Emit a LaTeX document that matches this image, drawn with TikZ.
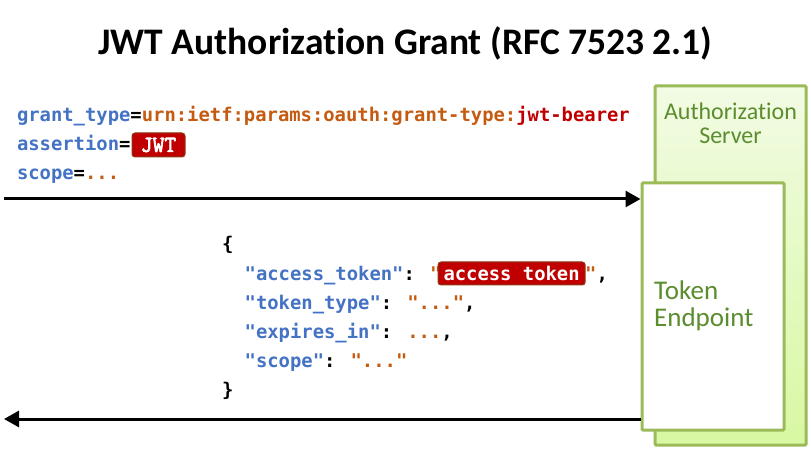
\documentclass[tikz,border=0pt]{standalone}
\usepackage{fontspec}
\usetikzlibrary{arrows.meta}
\setmainfont{Carlito}[Ligatures=NoCommon]
\newfontfamily\codefont{DejaVu Sans Mono}
\newfontfamily\jwtfont{Latin Modern Mono}[FakeBold=3]
\definecolor{keyblue}{HTML}{4472C4}
\definecolor{valorange}{HTML}{C55A11}
\definecolor{valred}{HTML}{C00000}
\definecolor{badgefill}{HTML}{C00000}
\definecolor{badgeedge}{HTML}{8A3A18}
\definecolor{boxgreen}{HTML}{9BBB59}
\definecolor{textgreen}{HTML}{5B8C2E}
\definecolor{astop}{HTML}{F2FBE4}
\definecolor{asbottom}{HTML}{D8F8A2}
\tikzset{
  code/.style={anchor=base west, inner sep=0pt, outer sep=0pt, font=\codefont\bfseries\fontsize{18.85}{29}\selectfont},
  badge/.style={fill=badgefill, draw=badgeedge, line width=1pt, rounded corners=3pt, text=white, inner ysep=0pt, outer sep=0pt},
  greenbox/.style={draw=boxgreen, line width=3pt, rounded corners=1pt},
  arr/.style={line width=3pt, -{Triangle[length=15pt,width=16pt]}},
}
\newcommand{\K}[1]{\textcolor{keyblue}{#1}}
\newcommand{\V}[1]{\textcolor{valorange}{#1}}
\newcommand{\R}[1]{\textcolor{valred}{#1}}
\begin{document}
\begin{tikzpicture}[x=1pt,y=-1pt]
\useasboundingbox[fill=white] (0,0) rectangle (811,454);
% title
\node[anchor=base, inner sep=0pt, font=\bfseries\fontsize{37.5}{40}\selectfont] (title) at (405.5,55) {JWT Authorization Grant (RFC 7523 2.1)};
% servers
\node[greenbox, top color=astop, bottom color=asbottom, minimum width=151pt, minimum height=359pt] (AS) at (730.5,265.5) {};
\node[greenbox, fill=white, minimum width=142pt, minimum height=247pt] (TE) at (713,306.5) {};
\node[align=center, text=textgreen, font=\fontsize{24}{24}\selectfont, inner sep=0pt] (ASlabel) at (730.5,123) {Authorization\\Server};
\node[align=left, anchor=west, text=textgreen, font=\fontsize{27}{27}\selectfont, inner sep=0pt] (TElabel) at (654,306) {Token\\Endpoint};
% request
\node[code] (r1) at (17,122) {\K{grant\_type}=\V{urn:ietf:params:oauth:grant-type:}\R{jwt-bearer}};
\node[code] (r2) at (17,151) {\K{assertion}=};
\node[badge, anchor=west, inner xsep=0pt, minimum width=53pt, minimum height=24pt, font=\jwtfont\fontsize{23}{23}\selectfont] (jwt) at (132,145) {JWT};
\node[code] (r3) at (17,180) {\K{scope}=\V{...}};
% response
\node[code] (j0) at (222,251) {\{};
\node[code] (j1) at (244.7,280) {\K{"access\_token"}: \V{"}};
\node[badge, anchor=west, inner xsep=5.5pt, minimum height=23pt, font=\codefont\bfseries\fontsize{18.85}{20}\selectfont] (tok) at (438,273.5) {access token};
\node[code, anchor=base west] (j1b) at (tok.east |- 0,280) {\V{"},};
\node[code] (j2) at (244.7,309) {\K{"token\_type"}: \V{"..."},};
\node[code] (j3) at (244.7,338) {\K{"expires\_in"}: \V{...},};
\node[code] (j4) at (244.7,367) {\K{"scope"}: \V{"..."}};
\node[code] (j5) at (222,396) {\}};
% arrows
\coordinate (s1) at (4,199);
\coordinate (s2) at (4,419);
\draw[arr] (s1) -- (s1 -| TE.west);
\draw[arr] (s2 -| TE.west) -- (s2);
\end{tikzpicture}
\end{document}
